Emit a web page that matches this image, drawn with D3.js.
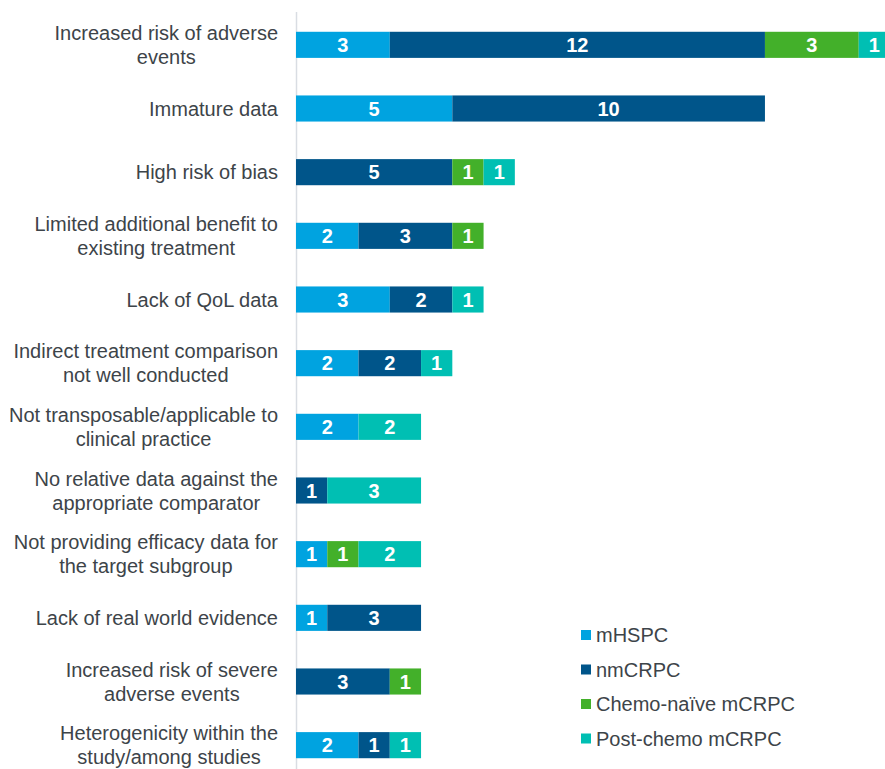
<!DOCTYPE html>
<html>
<head>
<meta charset="utf-8">
<script src="https://d3js.org/d3.v7.min.js"></script>
<style>
  body { margin: 0; background: #fff; }
  svg text { font-family: "Liberation Sans", Arial, sans-serif; }
</style>
</head>
<body>
<div id="chart"></div>
<script>
  // categories, one line per array entry (as wrapped in the original)
  var categories = [
    ["Increased risk of adverse", "events"],
    ["Immature data"],
    ["High risk of bias"],
    ["Limited additional benefit to", "existing treatment"],
    ["Lack of QoL data"],
    ["Indirect treatment comparison", "not well conducted"],
    ["Not transposable/applicable to", "clinical practice"],
    ["No relative data against the", "appropriate comparator"],
    ["Not providing efficacy data for", "the target subgroup"],
    ["Lack of real world evidence"],
    ["Increased risk of severe", "adverse events"],
    ["Heterogenicity within the", "study/among studies"]
  ];

  var seriesNames = ["mHSPC", "nmCRPC", "Chemo-naïve mCRPC", "Post-chemo mCRPC"];
  var seriesColors = ["#00a3e0", "#00558a", "#43b02a", "#00bfb3"];

  var mHSPC     = [3, 5, 0, 2, 3, 2, 2, 0, 1, 1, 0, 2];
  var nmCRPC    = [12, 10, 5, 3, 2, 2, 0, 1, 0, 3, 3, 1];
  var chemoNaive = [3, 0, 1, 1, 0, 0, 0, 0, 1, 0, 1, 0];
  var postChemo = [1, 0, 1, 0, 1, 1, 2, 3, 2, 0, 0, 1];

  var width = 885;
  var height = 769;

  var svg = d3.select("#chart")
    .append("svg")
    .attr("width", width)
    .attr("height", height);

  var keys = categories.map(function(d, i){ return i; });
  var rows = keys.map(function(i){
    return {id: i, s0: mHSPC[i], s1: nmCRPC[i], s2: chemoNaive[i], s3: postChemo[i]};
  });

  var stack = d3.stack().keys(["s0", "s1", "s2", "s3"]);
  var layers = stack(rows);

  var x = d3.scaleLinear().domain([0, 19]).range([296, 890]);
  var y = d3.scaleBand().domain(keys).range([13, 777])
    .paddingInner(0.59).paddingOuter(0.295);

  // axis line
  svg.append("line")
    .attr("x1", 296.5).attr("x2", 296.5)
    .attr("y1", 12).attr("y2", height)
    .attr("stroke", "#d9dde3")
    .attr("stroke-width", 1.5);

  // bars
  var layer = svg.selectAll("g.layer")
    .data(layers)
    .enter()
    .append("g")
    .attr("class", "layer")
    .attr("fill", function(d, i){ return seriesColors[i]; });

  layer.selectAll("rect")
    .data(function(d){ return d.filter(function(p){ return p[1] > p[0]; }); })
    .enter()
    .append("rect")
    .attr("x", function(d){ return x(d[0]); })
    .attr("y", function(d){ return y(d.data.id); })
    .attr("width", function(d){ return x(d[1]) - x(d[0]); })
    .attr("height", y.bandwidth());

  // value labels
  layer.selectAll("text")
    .data(function(d){ return d.filter(function(p){ return p[1] > p[0]; }); })
    .enter()
    .append("text")
    .attr("x", function(d){ return (x(d[0]) + x(d[1])) / 2; })
    .attr("y", function(d){ return y(d.data.id) + y.bandwidth() / 2; })
    .attr("dy", "0.36em")
    .attr("text-anchor", "middle")
    .attr("fill", "#fff")
    .attr("font-weight", "bold")
    .attr("font-size", 20)
    .text(function(d){ return d[1] - d[0]; });

  // category labels, lines centred on each other, block right-aligned
  var lineH = 24;
  categories.forEach(function(lines, i){
    var cy = y(i) + y.bandwidth() / 2;
    var g = svg.append("g");
    var texts = lines.map(function(l, j){
      return g.append("text")
        .attr("y", cy + (j - (lines.length - 1) / 2) * lineH)
        .attr("dy", "0.35em")
        .attr("text-anchor", "middle")
        .attr("font-size", 20)
        .attr("fill", "#3d4449")
        .text(l);
    });
    var maxW = d3.max(texts, function(t){ return t.node().getComputedTextLength(); });
    texts.forEach(function(t){ t.attr("x", 278 - maxW / 2); });
  });

  // legend
  var legend = svg.selectAll("g.legend")
    .data(seriesNames)
    .enter()
    .append("g")
    .attr("class", "legend")
    .attr("transform", function(d, i){ return "translate(581," + (635 + i * 34.5) + ")"; });

  legend.append("rect")
    .attr("x", 0).attr("y", -5)
    .attr("width", 10).attr("height", 10)
    .attr("fill", function(d, i){ return seriesColors[i]; });

  legend.append("text")
    .attr("x", 15)
    .attr("dy", "0.35em")
    .attr("font-size", 20)
    .attr("fill", "#3d4449")
    .text(function(d){ return d; });
</script>
</body>
</html>
